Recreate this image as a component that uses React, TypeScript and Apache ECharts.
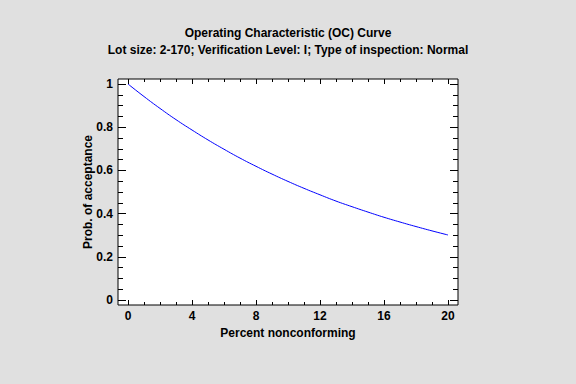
import React, { useEffect, useRef } from "react";
import * as echarts from "echarts";

const titleText = "Operating Characteristic (OC) Curve";
const subtitleText = "Lot size: 2-170; Verification Level: I; Type of inspection: Normal";
const xAxisName = "Percent nonconforming";
const yAxisName = "Prob. of acceptance";

const percentNonconforming = [0, 1, 2, 3, 4, 5, 6, 7, 8, 9, 10, 11, 12, 13, 14, 15, 16, 17, 18, 19, 20];
const probAcceptance = [
  1.0, 0.942, 0.887, 0.835, 0.787, 0.741, 0.698, 0.657, 0.619, 0.583, 0.549,
  0.517, 0.487, 0.458, 0.432, 0.407, 0.383, 0.361, 0.34, 0.32, 0.301,
];

const FONT = "'Liberation Sans', Arial, sans-serif";

export default function App() {
  const ref = useRef<HTMLDivElement>(null);
  useEffect(() => {
    if (!ref.current) return;
    const chart = echarts.init(ref.current, null, { renderer: "svg" });
    const labelStyle = { color: "#000", fontSize: 12, fontWeight: "bold" as const, fontFamily: FONT };
    const xCommon = {
      type: "value" as const,
      gridIndex: 1,
      min: 0,
      max: 20,
      interval: 4,
      offset: 5,
      axisLine: { show: false, onZero: false },
      axisTick: { show: true, inside: true, length: 5, lineStyle: { color: "#000", width: 1 } },
      minorTick: { show: true, splitNumber: 4, length: 3, lineStyle: { color: "#000", width: 1 } },
      splitLine: { show: false },
      minorSplitLine: { show: false },
    };
    const yCommon = {
      type: "value" as const,
      gridIndex: 1,
      min: 0,
      max: 1,
      interval: 0.2,
      offset: 10,
      axisLine: { show: false, onZero: false },
      axisTick: { show: true, inside: true, length: 8, lineStyle: { color: "#000", width: 1 } },
      minorTick: { show: true, splitNumber: 4, length: 5, lineStyle: { color: "#000", width: 1 } },
      splitLine: { show: false },
      minorSplitLine: { show: false },
    };
    chart.setOption({
      animation: false,
      backgroundColor: "#E0E0E0",
      title: [
        {
          text: titleText,
          left: "center",
          top: 27,
          padding: 0,
          textStyle: { ...labelStyle },
        },
        {
          text: subtitleText,
          left: "center",
          top: 44,
          padding: 0,
          textStyle: { ...labelStyle },
        },
      ],
      grid: [
        {
          left: 118,
          top: 79,
          width: 340,
          height: 226,
          show: true,
          backgroundColor: "#FFFFFF",
          borderColor: "#000000",
          borderWidth: 1,
        },
        { left: 128, top: 84, width: 320, height: 216 },
      ],
      xAxis: [
        { type: "value", gridIndex: 0, show: false, min: 0, max: 1 },
        {
          ...xCommon,
          position: "bottom",
          axisLabel: { ...labelStyle, margin: 5 },
          name: xAxisName,
          nameLocation: "middle",
          nameGap: 22,
          nameMoveOverlap: false,
          nameTextStyle: { ...labelStyle },
        },
        { ...xCommon, position: "top", axisLabel: { show: false } },
      ],
      yAxis: [
        { type: "value", gridIndex: 0, show: false, min: 0, max: 1 },
        {
          ...yCommon,
          position: "left",
          axisLabel: { ...labelStyle, margin: 5 },
          name: yAxisName,
          nameLocation: "middle",
          nameGap: 24,
          nameMoveOverlap: false,
          nameTextStyle: { ...labelStyle },
        },
        { ...yCommon, position: "right", axisLabel: { show: false } },
      ],
      series: [
        {
          type: "line",
          xAxisIndex: 1,
          yAxisIndex: 1,
          data: percentNonconforming.map((p, i) => [p, probAcceptance[i]]),
          smooth: true,
          showSymbol: false,
          lineStyle: { color: "#0000FF", width: 1 },
          itemStyle: { color: "#0000FF" },
        },
      ],
    });
    return () => chart.dispose();
  }, []);
  return (
    <div
      ref={ref}
      style={{ position: "fixed", left: 0, top: 0, width: 576, height: 384 }}
    />
  );
}
